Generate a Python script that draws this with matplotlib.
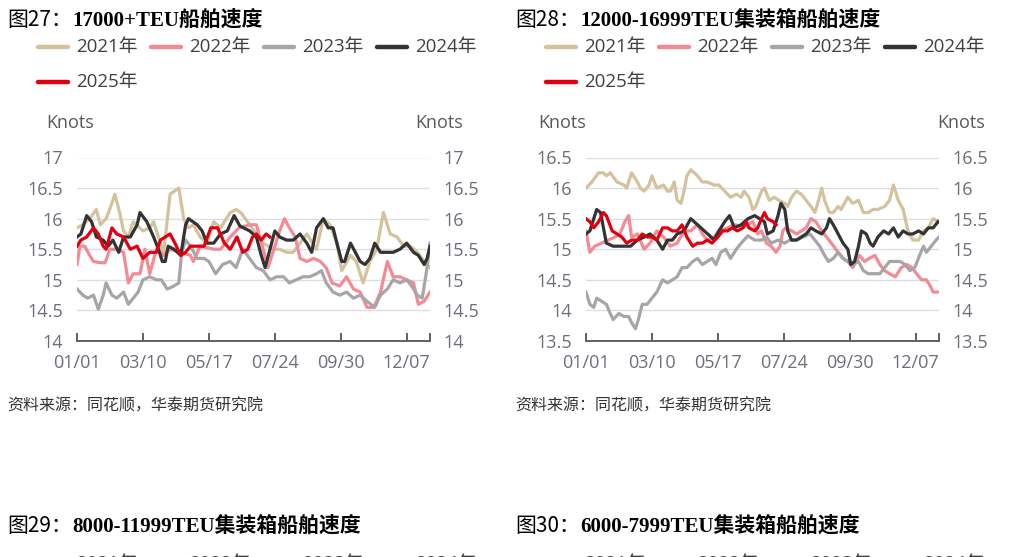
import matplotlib
matplotlib.use('Agg')
import matplotlib.pyplot as plt
from matplotlib.lines import Line2D

plt.rcParams['font.family'] = ['Open Sans', 'Noto Sans CJK SC', 'DejaVu Sans']

W, H = 1026, 557

years = ['2021年', '2022年', '2023年', '2024年', '2025年']
colors = ['#D4C29C', '#F48A93', '#A6A6A6', '#333333', '#E00010']

tick_days = [0, 68, 136, 204, 272, 340]
tick_labels = ['01/01', '03/10', '05/17', '07/24', '09/30', '12/07']

source = '资料来源：同花顺，华泰期货研究院'

# 图27: 17000+TEU, (day of year, knots)
s27_2021 = [(0, 15.85), (6, 15.9), (13, 16.0), (20, 16.15), (24, 15.9), (30, 16.0), (36, 16.25), (39, 16.4),
            (44, 16.1), (48, 15.8), (53, 15.7), (58, 15.95), (68, 15.8), (75, 15.85), (79, 15.95), (86, 15.6),
            (89, 15.4), (96, 16.4), (105, 16.5), (110, 16.0), (115, 15.85), (120, 15.9), (127, 15.7), (134, 15.6),
            (141, 15.95), (148, 15.85), (158, 16.1), (164, 16.15), (169, 16.1), (178, 15.9), (185, 15.75),
            (192, 15.6), (202, 15.5), (209, 15.5), (216, 15.45), (223, 15.45), (230, 15.6), (237, 15.75),
            (247, 15.5), (254, 16.0), (261, 15.9), (268, 15.6), (273, 15.15), (282, 15.4), (288, 15.3),
            (295, 14.95), (302, 15.3), (309, 15.5), (316, 16.1), (323, 15.75), (330, 15.7), (337, 15.55),
            (344, 15.55), (351, 15.45), (358, 15.3), (364, 15.2)]
s27_2022 = [(0, 15.25), (3, 15.55), (8, 15.55), (13, 15.4), (17, 15.3), (24, 15.28), (29, 15.28), (34, 15.5),
            (41, 15.5), (48, 15.45), (53, 14.95), (58, 15.1), (65, 15.1), (70, 15.5), (75, 15.1), (82, 15.5),
            (89, 15.4), (96, 15.5), (107, 15.45), (117, 15.4), (120, 15.3), (127, 15.55), (141, 15.5),
            (148, 15.5), (158, 15.7), (167, 15.85), (178, 15.9), (185, 15.9), (192, 15.5), (197, 15.2),
            (202, 15.45), (209, 15.8), (214, 16.0), (219, 15.85), (225, 15.7), (230, 15.35), (237, 15.3),
            (244, 15.35), (251, 15.3), (257, 15.2), (263, 14.95), (271, 14.9), (278, 15.05), (285, 14.85),
            (292, 14.8), (299, 14.55), (306, 14.55), (313, 14.8), (320, 15.3), (326, 15.05), (333, 15.05),
            (340, 15.0), (347, 14.95), (352, 14.6), (358, 14.65), (364, 14.8)]
s27_2023 = [(0, 14.85), (6, 14.75), (11, 14.7), (17, 14.75), (22, 14.52), (27, 14.75), (30, 14.95), (36, 14.75),
            (41, 14.7), (48, 14.8), (53, 14.6), (58, 14.7), (63, 14.8), (68, 15.0), (75, 15.05), (82, 15.0),
            (87, 15.0), (93, 14.85), (100, 14.9), (105, 14.95), (108, 15.45), (112, 15.65), (117, 15.55),
            (124, 15.35), (131, 15.35), (136, 15.3), (143, 15.1), (150, 15.25), (158, 15.3), (164, 15.2),
            (171, 15.5), (178, 15.35), (185, 15.2), (192, 15.15), (199, 15.0), (206, 15.05), (213, 15.05),
            (219, 14.95), (226, 15.0), (233, 15.05), (240, 15.05), (247, 15.1), (252, 15.15), (257, 14.95),
            (264, 14.8), (271, 14.75), (278, 14.8), (285, 14.7), (292, 14.75), (299, 14.65), (307, 14.55),
            (313, 14.75), (320, 14.85), (326, 15.0), (333, 14.95), (340, 15.0), (345, 14.9), (351, 14.75),
            (356, 14.7), (361, 15.2), (364, 15.6)]
s27_2024 = [(0, 15.7), (4, 15.75), (10, 16.05), (15, 15.95), (20, 15.7), (27, 15.65), (32, 15.55), (37, 15.65),
            (43, 15.45), (48, 15.7), (55, 15.7), (62, 15.9), (65, 16.1), (72, 15.95), (79, 15.7), (84, 15.5),
            (88, 15.3), (91, 15.3), (94, 15.55), (100, 15.5), (107, 15.4), (112, 15.9), (115, 16.0), (124, 15.9),
            (129, 15.8), (134, 15.6), (141, 15.6), (148, 15.75), (155, 15.8), (162, 16.05), (168, 15.88),
            (178, 15.8), (185, 15.7), (190, 15.4), (194, 15.2), (199, 15.5), (204, 15.8), (209, 15.7),
            (216, 15.65), (223, 15.65), (230, 15.75), (237, 15.6), (242, 15.45), (247, 15.85), (254, 16.0),
            (259, 15.85), (264, 15.85), (268, 15.6), (273, 15.3), (276, 15.3), (282, 15.6), (287, 15.45),
            (292, 15.3), (297, 15.25), (302, 15.35), (307, 15.6), (313, 15.45), (320, 15.45), (326, 15.45),
            (333, 15.5), (340, 15.6), (347, 15.45), (352, 15.4), (358, 15.25), (361, 15.35), (364, 15.55)]
s27_2025 = [(0, 15.55), (4, 15.65), (10, 15.7), (17, 15.85), (22, 15.75), (27, 15.55), (30, 15.5), (36, 15.85),
            (41, 15.75), (48, 15.7), (55, 15.5), (62, 15.55), (68, 15.35), (75, 15.45), (82, 15.45), (86, 15.65),
            (91, 15.7), (96, 15.75), (101, 15.6), (107, 15.4), (112, 15.45), (117, 15.55), (124, 15.55),
            (131, 15.55), (138, 15.85), (145, 15.85), (152, 15.6), (158, 15.5), (165, 15.7), (171, 15.45),
            (176, 15.5), (181, 15.7), (185, 15.75), (190, 15.65), (195, 15.75), (199, 15.7)]

# 图28: 12000-16999TEU
s28_2021 = [(0, 16.0), (6, 16.1), (13, 16.25), (18, 16.25), (21, 16.2), (25, 16.25), (32, 16.1), (39, 16.05),
            (42, 16.0), (47, 16.25), (53, 16.1), (56, 16.0), (60, 15.95), (65, 16.05), (68, 16.2), (73, 16.0),
            (80, 16.05), (84, 15.95), (87, 15.95), (91, 16.1), (94, 15.8), (98, 15.75), (101, 15.95), (104, 16.2),
            (108, 16.3), (115, 16.2), (120, 16.1), (125, 16.1), (132, 16.05), (137, 16.05), (143, 15.95),
            (149, 15.85), (155, 15.9), (160, 15.85), (163, 15.95), (168, 15.85), (172, 15.65), (175, 15.7),
            (181, 15.95), (184, 16.0), (189, 15.8), (194, 15.85), (199, 15.8), (205, 15.75), (208, 15.7),
            (212, 15.85), (217, 15.95), (222, 15.9), (227, 15.8), (232, 15.7), (236, 15.6), (239, 15.75),
            (243, 16.0), (246, 15.8), (251, 15.6), (255, 15.6), (260, 15.7), (263, 15.65), (270, 15.85),
            (275, 15.75), (281, 15.8), (286, 15.6), (291, 15.6), (296, 15.65), (301, 15.65), (308, 15.7),
            (313, 15.8), (317, 16.05), (322, 15.8), (327, 15.65), (332, 15.3), (337, 15.15), (343, 15.15),
            (348, 15.3), (353, 15.35), (358, 15.5), (363, 15.45)]
s28_2022 = [(0, 15.3), (4, 14.95), (9, 15.05), (16, 15.1), (23, 15.15), (30, 15.2), (35, 15.25), (40, 15.45),
            (44, 15.55), (47, 15.2), (53, 15.25), (60, 15.0), (66, 15.1), (73, 15.3), (80, 15.2), (87, 15.05),
            (94, 15.1), (101, 15.3), (108, 15.3), (115, 15.4), (120, 15.25), (125, 15.15), (132, 15.2),
            (137, 15.3), (146, 15.35), (153, 15.4), (160, 15.38), (167, 15.4), (172, 15.45), (177, 15.25),
            (181, 15.3), (186, 15.1), (191, 15.05), (196, 14.95), (200, 15.05), (203, 15.3), (206, 15.35),
            (212, 15.3), (217, 15.25), (222, 15.3), (227, 15.35), (232, 15.5), (237, 15.45), (243, 15.3),
            (248, 15.2), (253, 15.1), (260, 14.95), (265, 14.85), (270, 14.8), (275, 14.7), (282, 14.9),
            (287, 14.8), (292, 14.85), (298, 14.9), (303, 14.75), (308, 14.65), (313, 14.6), (319, 14.55),
            (325, 14.7), (331, 14.75), (336, 14.7), (341, 14.6), (346, 14.5), (351, 14.5), (355, 14.4),
            (358, 14.3), (363, 14.3)]
s28_2023 = [(0, 14.3), (4, 14.1), (8, 14.05), (11, 14.2), (16, 14.15), (21, 14.1), (25, 13.95), (28, 13.85),
            (34, 13.95), (39, 13.9), (44, 13.9), (47, 13.8), (51, 13.7), (54, 13.85), (58, 14.1), (63, 14.1),
            (68, 14.2), (73, 14.3), (79, 14.5), (84, 14.45), (89, 14.5), (94, 14.55), (99, 14.7), (104, 14.7),
            (110, 14.8), (115, 14.85), (120, 14.75), (125, 14.8), (130, 14.85), (134, 14.75), (139, 14.95),
            (144, 15.0), (149, 14.85), (155, 15.0), (160, 15.1), (167, 15.22), (174, 15.15), (181, 15.15),
            (186, 15.2), (191, 15.1), (198, 15.15), (205, 15.1), (210, 15.15), (217, 15.15), (224, 15.2),
            (231, 15.25), (236, 15.15), (241, 15.05), (246, 14.9), (250, 14.8), (255, 14.85), (260, 14.95),
            (265, 14.85), (270, 14.8), (275, 14.75), (281, 14.8), (286, 14.65), (291, 14.6), (298, 14.6),
            (303, 14.6), (308, 14.7), (313, 14.8), (319, 14.8), (324, 14.8), (329, 14.75), (334, 14.65),
            (339, 14.7), (344, 14.9), (348, 15.05), (351, 14.95), (356, 15.05), (361, 15.15), (364, 15.2)]
s28_2024 = [(0, 15.25), (4, 15.3), (8, 15.5), (11, 15.65), (15, 15.6), (18, 15.35), (21, 15.1), (28, 15.05),
            (35, 15.05), (40, 15.05), (46, 15.05), (53, 15.15), (60, 15.2), (66, 15.25), (73, 15.15), (79, 15.0),
            (84, 15.15), (89, 15.15), (94, 15.25), (101, 15.3), (108, 15.5), (115, 15.4), (122, 15.3),
            (129, 15.2), (132, 15.15), (137, 15.3), (143, 15.45), (148, 15.55), (153, 15.35), (160, 15.4),
            (167, 15.5), (174, 15.55), (179, 15.5), (184, 15.45), (187, 15.25), (193, 15.3), (198, 15.55),
            (201, 15.75), (205, 15.65), (208, 15.3), (212, 15.15), (217, 15.15), (222, 15.2), (227, 15.25),
            (232, 15.35), (237, 15.3), (243, 15.25), (248, 15.35), (251, 15.5), (255, 15.4), (260, 15.25),
            (265, 15.1), (270, 15.0), (273, 14.75), (277, 14.8), (281, 15.05), (284, 15.3), (289, 15.25),
            (293, 15.1), (296, 15.05), (301, 15.2), (307, 15.3), (312, 15.25), (317, 15.35), (322, 15.2),
            (327, 15.3), (332, 15.25), (337, 15.25), (343, 15.3), (348, 15.25), (353, 15.35), (358, 15.35),
            (363, 15.45)]
s28_2025 = [(0, 15.5), (4, 15.45), (8, 15.35), (13, 15.45), (18, 15.6), (21, 15.55), (27, 15.3), (32, 15.25),
            (37, 15.2), (42, 15.1), (47, 15.15), (53, 15.15), (58, 15.25), (63, 15.2), (68, 15.2), (73, 15.15),
            (79, 15.35), (84, 15.35), (89, 15.3), (94, 15.3), (99, 15.4), (104, 15.2), (110, 15.05), (115, 15.1),
            (120, 15.1), (125, 15.15), (130, 15.1), (136, 15.2), (141, 15.3), (146, 15.3), (151, 15.35),
            (156, 15.3), (162, 15.35), (165, 15.45), (168, 15.35), (174, 15.3), (177, 15.35), (181, 15.5),
            (184, 15.6), (187, 15.5), (193, 15.45), (196, 15.4)]

fig = plt.figure(figsize=(W / 100, H / 100), dpi=100)


def fx(px):
    return px / W


def fy(py):
    return 1 - py / H


def draw_title(x, y, num, rest):
    # "图27：" regular, the rest bold serif
    fig.text(fx(x), fy(y), num, fontsize=15, va='center', ha='left',
             family=['Noto Sans CJK SC', 'DejaVu Sans'])
    fig.text(fx(x + 65), fy(y), rest, fontsize=15, va='center', ha='left', weight='bold',
             family=['Liberation Serif', 'Noto Sans CJK SC', 'DejaVu Sans'])


def draw_legend(x, y, rows=True):
    # 4 items on the first row, 2025 on the second
    for i, (yr, c) in enumerate(zip(years, colors)):
        col, row = (i, 0) if i < 4 else (0, 1)
        if not rows and row == 1:
            continue
        lx = x + col * 113
        ly = y + row * 36
        fig.add_artist(Line2D([fx(lx), fx(lx + 30)], [fy(ly), fy(ly)], color=c, lw=3.2,
                              solid_capstyle='round'))
        fig.text(fx(lx + 38), fy(ly), yr, fontsize=13.5, color='#404040', va='center', ha='left')


def draw_panel(rect, series, ylim, yticks):
    ax = fig.add_axes(rect)
    for s, c in zip(series, colors):
        d = [p[0] for p in s]
        v = [p[1] for p in s]
        ax.plot(d, v, color=c, lw=2.3, solid_joinstyle='round')
    ax.set_xlim(0, 364)
    ax.set_ylim(*ylim)
    ax.set_yticks(yticks, [f'{t:g}' for t in yticks])
    ax.set_xticks(tick_days + [364], tick_labels + [''])
    ax.yaxis.grid(True, color='#D9DEE8', lw=1)
    ax.set_axisbelow(True)
    for sp in ['top', 'left', 'right']:
        ax.spines[sp].set_visible(False)
    ax.spines['bottom'].set_color('#555555')
    ax.spines['bottom'].set_linewidth(1.3)
    ax.tick_params(axis='y', length=0, labelleft=True, labelright=True, pad=10,
                   labelsize=13, labelcolor='#6E6E7A')
    ax.tick_params(axis='x', direction='in', length=6, width=1.3, color='#555555', pad=9,
                   labelsize=13, labelcolor='#6E6E7A')
    return ax


# top-left: 图27
draw_title(7, 20, '图27：', '17000+TEU船舶速度')
draw_legend(38, 46.5)
fig.text(fx(46), fy(123), 'Knots', fontsize=13, color='#595959', va='center', ha='left')
fig.text(fx(463), fy(123), 'Knots', fontsize=13, color='#595959', va='center', ha='right')
draw_panel([fx(77), fy(341), (430 - 77) / W, (341 - 157.5) / H],
           [s27_2021, s27_2022, s27_2023, s27_2024, s27_2025],
           (14, 17), [14, 14.5, 15, 15.5, 16, 16.5, 17])
fig.text(fx(7), fy(407), source, fontsize=11.5, color='#333333', va='center', ha='left')

# top-right: 图28
draw_title(515, 20, '图28：', '12000-16999TEU集装箱船舶速度')
draw_legend(546, 46.5)
fig.text(fx(538), fy(123), 'Knots', fontsize=13, color='#595959', va='center', ha='left')
fig.text(fx(985), fy(123), 'Knots', fontsize=13, color='#595959', va='center', ha='right')
draw_panel([fx(586), fy(341), (939 - 586) / W, (341 - 157.5) / H],
           [s28_2021, s28_2022, s28_2023, s28_2024, s28_2025],
           (13.5, 16.5), [13.5, 14, 14.5, 15, 15.5, 16, 16.5])
fig.text(fx(515), fy(407), source, fontsize=11.5, color='#333333', va='center', ha='left')

# next charts, cut off by the page edge
draw_title(7, 526, '图29：', '8000-11999TEU集装箱船舶速度')
draw_title(515, 526, '图30：', '6000-7999TEU集装箱船舶速度')
draw_legend(38, 564, rows=False)
draw_legend(546, 564, rows=False)

fig.savefig('out.png', dpi=100)
